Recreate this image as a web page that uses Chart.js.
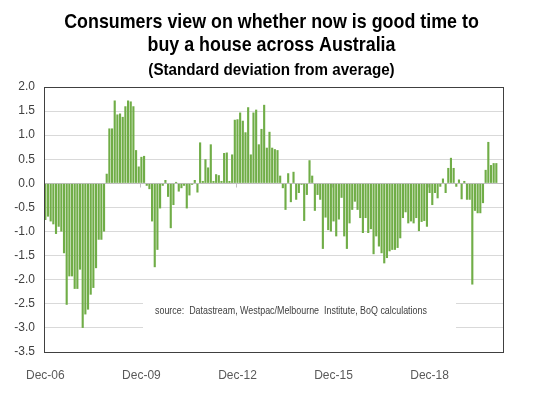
<!DOCTYPE html>
<html>
<head>
<meta charset="utf-8">
<script src="https://cdn.jsdelivr.net/npm/chart.js@4/dist/chart.umd.min.js"></script>
<style>
    html, body { margin: 0; padding: 0; background: #fff; }
    canvas { display: block; }
</style>
</head>
<body>
<canvas id="graficoCasa" width="543" height="393"></canvas>
<script>
// meses: dez/2006 em diante (um valor por mes)
var mesInicial = 11;
var anoInicial = 2006;
var totalMeses = 172;

var rotulosEixo = ['Dec-06', 'Dec-09', 'Dec-12', 'Dec-15', 'Dec-18'];
var ticksY = [2.0, 1.5, 1.0, 0.5, 0.0, -0.5, -1.0, -1.5, -2.0, -2.5, -3.0, -3.5];

var valores = [
    -0.76, -0.69, -0.79, -0.85, -1.05, -0.90, -1.00, -1.45, -2.52, -1.93,
    -1.93, -2.19, -2.19, -1.79, -3.00, -2.72, -2.62, -2.31, -2.17, -1.76,
    -1.17, -1.17, -1.00, 0.20, 1.14, 1.14, 1.72, 1.43, 1.45, 1.38,
    1.60, 1.72, 1.70, 1.60, 0.69, 0.35, 0.55, 0.57, -0.05, -0.12,
    -0.79, -1.74, -1.38, -0.52, -0.05, 0.07, -0.28, -0.93, -0.45, 0.03,
    -0.17, -0.10, -0.05, -0.52, -0.25, -0.03, 0.07, -0.19, 0.85, 0.05,
    0.50, 0.33, 0.81, 0.05, 0.19, 0.17, 0.05, 0.63, 0.64, 0.05,
    0.60, 1.32, 1.33, 1.47, 1.30, 1.06, 1.58, 0.60, 1.47, 1.53,
    0.81, 1.13, 1.63, 0.74, 1.07, 0.74, 0.71, 0.69, 0.16, -0.10,
    -0.55, 0.21, -0.39, 0.24, -0.34, -0.20, -0.03, -0.78, -0.24, 0.48,
    0.16, -0.57, -0.24, -0.34, -1.36, -0.71, -0.97, -1.00, -0.79, -1.10,
    -0.75, -0.30, -1.10, -1.36, -0.83, -0.55, -0.38, -0.55, -0.72, -1.03,
    -0.72, -1.03, -0.95, -1.47, -1.10, -1.31, -1.45, -1.66, -1.55, -1.41,
    -1.38, -1.38, -1.34, -1.14, -0.72, -0.60, -0.83, -0.79, -0.83, -0.72,
    -0.99, -0.80, -0.78, -0.90, -0.20, -0.45, -0.20, -0.31, -0.07, 0.10,
    -0.20, 0.32, 0.53, 0.32, -0.07, 0.08, -0.33, 0.05, -0.34, -0.34,
    -2.10, -0.57, -0.62, -0.62, -0.41, 0.28, 0.86, 0.38, 0.42, 0.42
];

var titulo = ['Consumers view on whether now is good time to', 'buy a house across Australia'];
var subtitulo = '(Standard deviation from average)';
var fonte = 'source:  Datastream, Westpac/Melbourne  Institute, BoQ calculations';

var nomesMeses = ['Jan', 'Feb', 'Mar', 'Apr', 'May', 'Jun', 'Jul', 'Aug', 'Sep', 'Oct', 'Nov', 'Dec'];

function montarRotulos() {
    var rotulos = [];
    for (var i = 0; i < totalMeses; i++) {
        var m = mesInicial + i;
        var ano = anoInicial + Math.floor(m / 12);
        rotulos.push(nomesMeses[m % 12] + '-' + String(ano).slice(2));
    }
    return rotulos;
}

var familia = '"Liberation Sans", Arial, sans-serif';

// texto "narrow": Arial comprimido na horizontal
function textoEstreito(ctx, texto, x, y, escalaX, alinhamento) {
    ctx.save();
    ctx.translate(x, y);
    ctx.scale(escalaX, 1);
    ctx.textAlign = alinhamento;
    ctx.fillText(texto, 0, 0);
    ctx.restore();
}

var pluginMoldura = {
    id: 'moldura',
    beforeDatasetsDraw: function (chart) {
        var ctx = chart.ctx;
        var x = chart.scales.x;
        var y = chart.scales.y;
        var y0 = Math.round(y.getPixelForValue(0)) + 0.5;
        var meia = (x.getPixelForValue(1) - x.getPixelForValue(0)) / 2;

        ctx.save();
        // caixa branca da fonte
        ctx.fillStyle = '#ffffff';
        ctx.fillRect(143, 292, 313, 48);
        ctx.fillStyle = '#404040';
        ctx.font = '10px ' + familia;
        ctx.textBaseline = 'middle';
        textoEstreito(ctx, fonte, 155, 311, 0.89, 'left');

        // marcas no eixo zero
        ctx.strokeStyle = '#bfbfbf';
        ctx.lineWidth = 1;
        chart.data.labels.forEach(function (rot, idx) {
            if (rotulosEixo.indexOf(rot) !== -1) {
                var px = Math.round(x.getPixelForValue(idx) - meia) + 0.5;
                ctx.beginPath();
                ctx.moveTo(px, y0);
                ctx.lineTo(px, y0 + 4);
                ctx.stroke();
            }
        });
        ctx.restore();
    },
    afterDatasetsDraw: function (chart) {
        var ctx = chart.ctx;
        var area = chart.chartArea;
        ctx.save();
        ctx.strokeStyle = '#404040';
        ctx.lineWidth = 1;
        ctx.strokeRect(Math.round(area.left) + 0.5, Math.round(area.top) + 0.5,
            Math.round(area.right - area.left), Math.round(area.bottom - area.top));
        ctx.restore();
    },
    afterDraw: function (chart) {
        var ctx = chart.ctx;
        var cx = chart.width / 2;
        ctx.save();
        ctx.fillStyle = '#000000';
        ctx.textBaseline = 'middle';
        ctx.font = 'bold 21px ' + familia;
        textoEstreito(ctx, titulo[0], cx, 22, 0.85, 'center');
        textoEstreito(ctx, titulo[1], cx, 45, 0.85, 'center');
        ctx.font = 'bold 16.5px ' + familia;
        textoEstreito(ctx, subtitulo, cx, 70, 0.92, 'center');
        ctx.restore();
    }
};

var ctx = document.getElementById('graficoCasa').getContext('2d');

new Chart(ctx, {
    type: 'bar',
    data: {
        labels: montarRotulos(),
        datasets: [{
            label: 'Time to buy a dwelling',
            data: valores,
            backgroundColor: '#70ad47',
            borderWidth: 0,
            barPercentage: 0.8,
            categoryPercentage: 1.0
        }]
    },
    options: {
        responsive: false,
        animation: false,
        devicePixelRatio: 1,
        layout: {
            padding: { top: 87, left: 0, right: 40, bottom: 0 }
        },
        plugins: {
            legend: { display: false },
            title: { display: false },
            tooltip: { enabled: false }
        },
        scales: {
            x: {
                type: 'category',
                grid: { display: false, drawTicks: false },
                border: { display: false },
                ticks: {
                    autoSkip: false,
                    maxRotation: 0,
                    padding: 16,
                    color: '#595959',
                    font: { family: familia, size: 12 },
                    callback: function (valor) {
                        var rot = this.getLabelForValue(valor);
                        return rotulosEixo.indexOf(rot) !== -1 ? rot : '';
                    }
                },
                afterFit: function (escala) {
                    escala.height = 41;
                }
            },
            y: {
                min: ticksY[ticksY.length - 1],
                max: ticksY[0],
                grid: {
                    drawTicks: false,
                    color: function (c) {
                        return c.tick && c.tick.value === 0 ? '#bfbfbf' : '#d9d9d9';
                    }
                },
                border: { display: false },
                afterBuildTicks: function (escala) {
                    escala.ticks = ticksY.map(function (v) { return { value: v }; });
                },
                ticks: {
                    padding: 9,
                    color: '#404040',
                    font: { family: familia, size: 12 },
                    callback: function (v) {
                        return Number(v).toFixed(1);
                    }
                },
                afterFit: function (escala) {
                    escala.width = 44;
                }
            }
        }
    },
    plugins: [pluginMoldura]
});
</script>
</body>
</html>
